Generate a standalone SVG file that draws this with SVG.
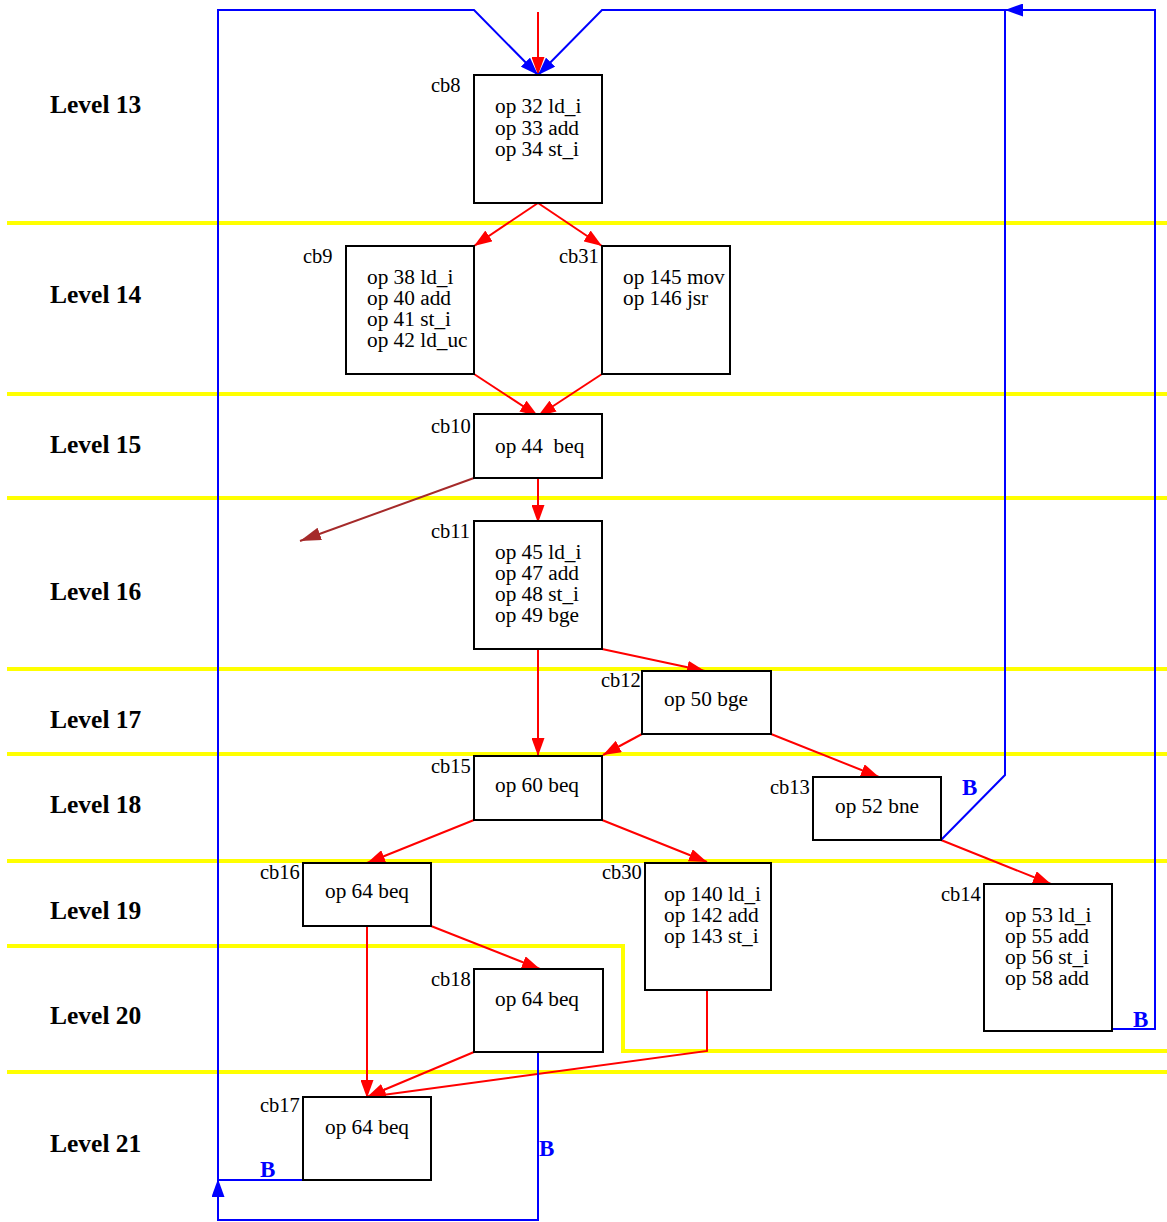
<svg xmlns="http://www.w3.org/2000/svg" width="1167" height="1222" viewBox="0 0 1167 1222">
<defs>
<style>
.lvl{font-family:"Liberation Serif","Times New Roman",serif;font-weight:bold;font-size:25.5px;fill:#000}
.lbl{font-family:"Liberation Serif","Times New Roman",serif;font-size:20.5px;fill:#000}
.op{font-family:"Liberation Serif","Times New Roman",serif;font-size:21.3px;fill:#000;white-space:pre}
.box{fill:#fff;stroke:#000;stroke-width:2}
.yl{stroke:#ffff00;stroke-width:4;fill:none}
.red{stroke:#ff0000;stroke-width:2;fill:none}
.blue{stroke:#0000ff;stroke-width:2;fill:none}
.brown{stroke:#a52a2a;stroke-width:2;fill:none}
.bl{font-family:"Liberation Serif","Times New Roman",serif;font-weight:bold;font-size:23px;fill:#0000ff}
</style>
<marker id="ar" markerUnits="userSpaceOnUse" markerWidth="19" markerHeight="13" refX="18" refY="6.5" orient="auto"><path d="M0,0 L18,6.5 L0,13 z" fill="#ff0000"/></marker>
<marker id="ab" markerUnits="userSpaceOnUse" markerWidth="19" markerHeight="13" refX="18" refY="6.5" orient="auto"><path d="M0,0 L18,6.5 L0,13 z" fill="#0000ff"/></marker>
<marker id="abr" markerUnits="userSpaceOnUse" markerWidth="22" markerHeight="13" refX="21" refY="6.5" orient="auto"><path d="M0,0 L21,6.5 L0,13 z" fill="#a52a2a"/></marker>
</defs>
<rect width="1167" height="1222" fill="#fff"/>
<g id="levels">
<line class="yl" x1="7" y1="223" x2="1167" y2="223"/>
<line class="yl" x1="7" y1="394" x2="1167" y2="394"/>
<line class="yl" x1="7" y1="498" x2="1167" y2="498"/>
<line class="yl" x1="7" y1="669" x2="1167" y2="669"/>
<line class="yl" x1="7" y1="754" x2="1167" y2="754"/>
<line class="yl" x1="7" y1="861" x2="1167" y2="861"/>
<polyline class="yl" points="7,946 623,946 623,1051 1167,1051"/>
<line class="yl" x1="7" y1="1072" x2="1167" y2="1072"/>
<text class="lvl" x="50" y="113">Level 13</text>
<text class="lvl" x="50" y="303">Level 14</text>
<text class="lvl" x="50" y="453">Level 15</text>
<text class="lvl" x="50" y="600">Level 16</text>
<text class="lvl" x="50" y="728">Level 17</text>
<text class="lvl" x="50" y="813">Level 18</text>
<text class="lvl" x="50" y="919">Level 19</text>
<text class="lvl" x="50" y="1024">Level 20</text>
<text class="lvl" x="50" y="1152">Level 21</text>
</g>
<g id="connectors">
<line class="red" x1="538" y1="12" x2="538" y2="75" marker-end="url(#ar)"/>
<line class="red" x1="538" y1="203" x2="474" y2="246" marker-end="url(#ar)"/>
<line class="red" x1="538" y1="203" x2="602" y2="246" marker-end="url(#ar)"/>
<line class="red" x1="474" y1="374" x2="538" y2="416" marker-end="url(#ar)"/>
<line class="red" x1="602" y1="374" x2="538" y2="416" marker-end="url(#ar)"/>
<line class="red" x1="538" y1="478" x2="538" y2="523" marker-end="url(#ar)"/>
<line class="brown" x1="474" y1="478" x2="300" y2="541" marker-end="url(#abr)"/>
<line class="red" x1="602" y1="649" x2="705" y2="671" marker-end="url(#ar)"/>
<line class="red" x1="538" y1="649" x2="538" y2="756" marker-end="url(#ar)"/>
<line class="red" x1="642" y1="734" x2="603" y2="755" marker-end="url(#ar)"/>
<line class="red" x1="771" y1="734" x2="879" y2="777" marker-end="url(#ar)"/>
<line class="red" x1="941" y1="840" x2="1051" y2="884" marker-end="url(#ar)"/>
<line class="red" x1="474" y1="820" x2="367" y2="863" marker-end="url(#ar)"/>
<line class="red" x1="602" y1="820" x2="707" y2="862" marker-end="url(#ar)"/>
<line class="red" x1="431" y1="926" x2="540" y2="969" marker-end="url(#ar)"/>
<line class="red" x1="367" y1="926" x2="367" y2="1098" marker-end="url(#ar)"/>
<line class="red" x1="474" y1="1052" x2="367" y2="1097" marker-end="url(#ar)"/>
<polyline class="red" points="707,990 707,1051 368,1097" marker-end="url(#ar)"/>
<polyline class="blue" points="303,1180 218,1180 218,10 474,10 538,75" marker-end="url(#ab)"/>
<polyline class="blue" points="538,1052 538,1220 218,1220 218,1179" marker-end="url(#ab)"/>
<polyline class="blue" points="941,840 1005,775 1005,10 602,10 538,75" marker-end="url(#ab)"/>
<polyline class="blue" points="1112,1029 1155,1029 1155,10 1005,10" marker-end="url(#ab)"/>
<text class="bl" x="260" y="1177">B</text>
<text class="bl" x="539" y="1156">B</text>
<text class="bl" x="962" y="795">B</text>
<text class="bl" x="1133" y="1027">B</text>
</g>
<g id="cb8"><rect class="box" x="474" y="75" width="128" height="128"/><text class="lbl" x="431" y="92">cb8</text><text class="op" x="495" y="113">op 32 ld_i</text><text class="op" x="495" y="134.5">op 33 add</text><text class="op" x="495" y="156">op 34 st_i</text></g>
<g id="cb9"><rect class="box" x="346" y="246" width="128" height="128"/><text class="lbl" x="303" y="263">cb9</text><text class="op" x="367" y="284">op 38 ld_i</text><text class="op" x="367" y="305">op 40 add</text><text class="op" x="367" y="326">op 41 st_i</text><text class="op" x="367" y="347">op 42 ld_uc</text></g>
<g id="cb31"><rect class="box" x="602" y="246" width="128" height="128"/><text class="lbl" x="559" y="263">cb31</text><text class="op" x="623" y="284">op 145 mov</text><text class="op" x="623" y="305">op 146 jsr</text></g>
<g id="cb10"><rect class="box" x="474" y="414" width="128" height="64"/><text class="lbl" x="431" y="433">cb10</text><text class="op" x="495" y="453">op 44  beq</text></g>
<g id="cb11"><rect class="box" x="474" y="521" width="128" height="128"/><text class="lbl" x="431" y="538">cb11</text><text class="op" x="495" y="559">op 45 ld_i</text><text class="op" x="495" y="580">op 47 add</text><text class="op" x="495" y="601">op 48 st_i</text><text class="op" x="495" y="622">op 49 bge</text></g>
<g id="cb12"><rect class="box" x="642" y="671" width="129" height="63"/><text class="lbl" x="601" y="687">cb12</text><text class="op" x="664" y="706">op 50 bge</text></g>
<g id="cb15"><rect class="box" x="474" y="756" width="128" height="64"/><text class="lbl" x="431" y="773">cb15</text><text class="op" x="495" y="792">op 60 beq</text></g>
<g id="cb13"><rect class="box" x="813" y="777" width="128" height="63"/><text class="lbl" x="770" y="794">cb13</text><text class="op" x="835" y="813">op 52 bne</text></g>
<g id="cb16"><rect class="box" x="303" y="863" width="128" height="63"/><text class="lbl" x="260" y="879">cb16</text><text class="op" x="325" y="898">op 64 beq</text></g>
<g id="cb30"><rect class="box" x="645" y="863" width="126" height="127"/><text class="lbl" x="602" y="879">cb30</text><text class="op" x="664" y="901">op 140 ld_i</text><text class="op" x="664" y="922">op 142 add</text><text class="op" x="664" y="943">op 143 st_i</text></g>
<g id="cb14"><rect class="box" x="984" y="884" width="128" height="147"/><text class="lbl" x="941" y="901">cb14</text><text class="op" x="1005" y="922">op 53 ld_i</text><text class="op" x="1005" y="943">op 55 add</text><text class="op" x="1005" y="964">op 56 st_i</text><text class="op" x="1005" y="985">op 58 add</text></g>
<g id="cb18"><rect class="box" x="474" y="969" width="129" height="83"/><text class="lbl" x="431" y="986">cb18</text><text class="op" x="495" y="1006">op 64 beq</text></g>
<g id="cb17"><rect class="box" x="303" y="1097" width="128" height="83"/><text class="lbl" x="260" y="1112">cb17</text><text class="op" x="325" y="1134">op 64 beq</text></g>
</svg>
